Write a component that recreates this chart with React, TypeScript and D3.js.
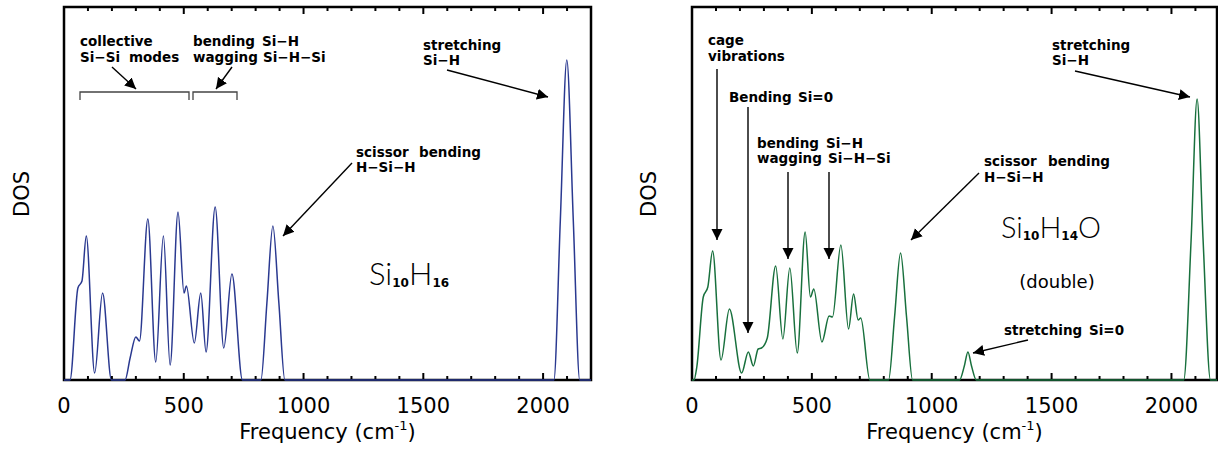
import React from 'react';
import * as d3 from 'd3';

// ---------- data ----------
const majorTicks = [0, 500, 1000, 1500, 2000];
const minorTicks = [100, 200, 300, 400, 600, 700, 800, 900, 1100, 1200, 1300, 1400, 1600, 1700, 1800, 1900, 2100];

// Si10H16 DOS (arb. units)
const si10h16Freq = [0, 25, 58, 75, 93, 128, 161, 198, 255, 276, 300, 315, 350, 383, 415, 443, 476, 501, 511, 544, 571, 593, 631, 667, 701, 745, 822, 847, 872, 897, 922, 2045, 2072, 2099, 2126, 2153, 2200];
const si10h16Dos = [0, 0, 0.92, 0.99, 1.44, 0.07, 0.87, 0, 0, 0.22, 0.43, 0.39, 1.61, 0.18, 1.44, 0.15, 1.68, 0.87, 0.94, 0.37, 0.87, 0.28, 1.73, 0.32, 1.06, 0, 0, 0.77, 1.54, 0.77, 0, 0, 1.6, 3.2, 1.6, 0, 0];

// Si10H14O (double) DOS (arb. units)
const si10h14oFreq = [0, 8, 20, 47, 66, 86, 121, 156, 207, 235, 256, 276, 290, 314, 349, 379, 408, 439, 472, 494, 508, 542, 572, 586, 621, 653, 674, 693, 704, 742, 820, 845, 870, 895, 920, 1116, 1136, 1151, 1166, 1186, 2051, 2082, 2107, 2132, 2163, 2190];
const si10h14oDos = [0, 0, 0.13, 0.83, 0.93, 1.29, 0.2, 0.71, 0.07, 0.28, 0.14, 0.31, 0.32, 0.42, 1.14, 0.41, 1.12, 0.27, 1.48, 0.83, 0.91, 0.38, 0.64, 0.63, 1.35, 0.51, 0.86, 0.6, 0.62, 0, 0, 0.63, 1.27, 0.63, 0, 0, 0.14, 0.28, 0.14, 0, 0, 1.4, 2.81, 1.4, 0, 0];

const dosMax = 3.73;

// ---------- layout ----------
const TOP = 7;
const BOTTOM = 380;
const ANN_FONT = "'DejaVu Sans', sans-serif";

type Txt = { x: number; y: number; t: string };
type Arr = { x1: number; y1: number; x2: number; y2: number };

const leftTexts: Txt[] = [
  { x: 80, y: 46, t: 'collective' },
  { x: 80, y: 62, t: 'Si−Si' },
  { x: 129, y: 62, t: 'modes' },
  { x: 193, y: 46, t: 'bending' },
  { x: 262, y: 46, t: 'Si−H' },
  { x: 193, y: 62, t: 'wagging' },
  { x: 263, y: 62, t: 'Si−H−Si' },
  { x: 423, y: 50, t: 'stretching' },
  { x: 423, y: 65, t: 'Si−H' },
  { x: 356, y: 157, t: 'scissor' },
  { x: 419, y: 157, t: 'bending' },
  { x: 356, y: 172, t: 'H−Si−H' },
];
const leftArrows: Arr[] = [
  { x1: 112, y1: 67, x2: 136, y2: 89 },
  { x1: 232, y1: 67, x2: 216, y2: 89 },
  { x1: 447, y1: 70, x2: 548, y2: 97 },
  { x1: 352, y1: 163, x2: 283, y2: 236 },
];
const leftBrackets = [
  [80, 189],
  [193, 237],
];

const rightTexts: Txt[] = [
  { x: 708, y: 45, t: 'cage' },
  { x: 708, y: 61, t: 'vibrations' },
  { x: 729, y: 102, t: 'Bending' },
  { x: 798, y: 102, t: 'Si=0' },
  { x: 757, y: 148, t: 'bending' },
  { x: 826, y: 148, t: 'Si−H' },
  { x: 757, y: 163, t: 'wagging' },
  { x: 828, y: 163, t: 'Si−H−Si' },
  { x: 984, y: 166, t: 'scissor' },
  { x: 1048, y: 166, t: 'bending' },
  { x: 984, y: 182, t: 'H−Si−H' },
  { x: 1004, y: 335, t: 'stretching' },
  { x: 1089, y: 335, t: 'Si=0' },
  { x: 1052, y: 50, t: 'stretching' },
  { x: 1052, y: 65, t: 'Si−H' },
];
const rightArrows: Arr[] = [
  { x1: 717, y1: 69, x2: 717, y2: 240 },
  { x1: 748, y1: 107, x2: 748, y2: 333 },
  { x1: 788, y1: 172, x2: 788, y2: 259 },
  { x1: 829, y1: 172, x2: 829, y2: 259 },
  { x1: 979, y1: 173, x2: 911, y2: 240 },
  { x1: 1028, y1: 340, x2: 973, y2: 353 },
  { x1: 1075, y1: 71, x2: 1190, y2: 97 },
];

type PanelProps = {
  x0: number;
  x1: number;
  xMax: number;
  freq: number[];
  dos: number[];
  color: string;
  dosX: number;
};

function Panel({ x0, x1, xMax, freq, dos, color, dosX }: PanelProps) {
  const xs = d3.scaleLinear().domain([0, xMax]).range([x0, x1]);
  const ys = d3.scaleLinear().domain([0, dosMax]).range([BOTTOM, TOP]);
  const pts: [number, number][] = freq.map((f, i) => [f, dos[i]]);
  const line = d3
    .line<[number, number]>()
    .x((d) => xs(d[0]))
    .y((d) => ys(d[1]))
    .curve(d3.curveMonotoneX);
  const cx = (x0 + x1) / 2;
  return (
    <g>
      {majorTicks.map((t) => (
        <g key={'M' + t}>
          <line x1={xs(t)} x2={xs(t)} y1={BOTTOM} y2={BOTTOM - 7} stroke="#000" strokeWidth={2} />
          <line x1={xs(t)} x2={xs(t)} y1={TOP} y2={TOP + 7} stroke="#000" strokeWidth={2} />
          <text
            x={xs(t)}
            y={413}
            textAnchor="middle"
            fontFamily="'DejaVu Sans', sans-serif"
            fontSize={21}
            fill="#000"
          >
            {t}
          </text>
        </g>
      ))}
      {minorTicks.map((t) => (
        <g key={'m' + t}>
          <line x1={xs(t)} x2={xs(t)} y1={BOTTOM} y2={BOTTOM - 4} stroke="#000" strokeWidth={2} />
          <line x1={xs(t)} x2={xs(t)} y1={TOP} y2={TOP + 4} stroke="#000" strokeWidth={2} />
        </g>
      ))}
      <rect x={x0} y={TOP} width={x1 - x0} height={BOTTOM - TOP} fill="none" stroke="#000" strokeWidth={2.5} />
      <path d={line(pts) || ''} fill="none" stroke={color} strokeWidth={1.5} />
      <text
        x={cx}
        y={439}
        textAnchor="middle"
        fontFamily="'DejaVu Sans', sans-serif"
        fontSize={21}
        fill="#000"
      >
        Frequency (cm
        <tspan fontSize={13} dy={-9}>-1</tspan>
        <tspan dy={9}>)</tspan>
      </text>
      <text
        transform={`translate(${dosX},194) rotate(-90)`}
        textAnchor="middle"
        fontFamily="'DejaVu Sans', sans-serif"
        fontSize={21}
        fill="#000"
      >
        DOS
      </text>
    </g>
  );
}

function Annotations({ texts, arrows }: { texts: Txt[]; arrows: Arr[] }) {
  return (
    <g>
      {texts.map((t, i) => (
        <text key={i} x={t.x} y={t.y} fontFamily={ANN_FONT} fontWeight="bold" fontSize={13.5} fill="#000">
          {t.t}
        </text>
      ))}
      {arrows.map((a, i) => (
        <line
          key={i}
          x1={a.x1}
          y1={a.y1}
          x2={a.x2}
          y2={a.y2}
          stroke="#000"
          strokeWidth={1.4}
          markerEnd="url(#arrowHead)"
        />
      ))}
    </g>
  );
}

export default function App() {
  return (
    <svg
      width={1218}
      height={450}
      viewBox="0 0 1218 450"
      style={{ position: 'absolute', left: 0, top: 0, background: '#fff', display: 'block' }}
    >
      <defs>
        <marker
          id="arrowHead"
          markerUnits="userSpaceOnUse"
          markerWidth={12}
          markerHeight={12}
          viewBox="0 0 12 12"
          refX={11}
          refY={6}
          orient="auto"
        >
          <path d="M0,0.5 L11,6 L0,11.5 Z" fill="#000" />
        </marker>
      </defs>
      <rect x={0} y={0} width={1218} height={450} fill="#fff" />

      <Panel x0={64} x1={591} xMax={2200} freq={si10h16Freq} dos={si10h16Dos} color="#2a3990" dosX={29} />
      <Panel x0={692} x1={1217} xMax={2190} freq={si10h14oFreq} dos={si10h14oDos} color="#18703d" dosX={656} />

      <Annotations texts={leftTexts} arrows={leftArrows} />
      {leftBrackets.map((b, i) => (
        <path
          key={i}
          d={`M${b[0]},100 L${b[0]},92 L${b[1]},92 L${b[1]},100`}
          fill="none"
          stroke="#444"
          strokeWidth={1.3}
        />
      ))}
      <Annotations texts={rightTexts} arrows={rightArrows} />

      <text x={369} y={285} fontFamily="Lato, 'DejaVu Sans', sans-serif" fontWeight={300} fontSize={31} fill="#000">
        Si
        <tspan fontFamily="'DejaVu Sans', sans-serif" fontWeight="bold" fontSize={12} dy={2}>10</tspan>
        <tspan dy={-2}>H</tspan>
        <tspan fontFamily="'DejaVu Sans', sans-serif" fontWeight="bold" fontSize={12} dy={2}>16</tspan>
      </text>
      <text x={1001} y={238} fontFamily="Lato, 'DejaVu Sans', sans-serif" fontWeight={300} fontSize={29} fill="#000">
        Si
        <tspan fontFamily="'DejaVu Sans', sans-serif" fontWeight="bold" fontSize={12} dy={2}>10</tspan>
        <tspan dy={-2}>H</tspan>
        <tspan fontFamily="'DejaVu Sans', sans-serif" fontWeight="bold" fontSize={12} dy={2}>14</tspan>
        <tspan dy={-2}>O</tspan>
      </text>
      <text x={1057} y={288} textAnchor="middle" fontFamily="'DejaVu Sans', sans-serif" fontSize={18} fill="#000">
        (double)
      </text>
    </svg>
  );
}
